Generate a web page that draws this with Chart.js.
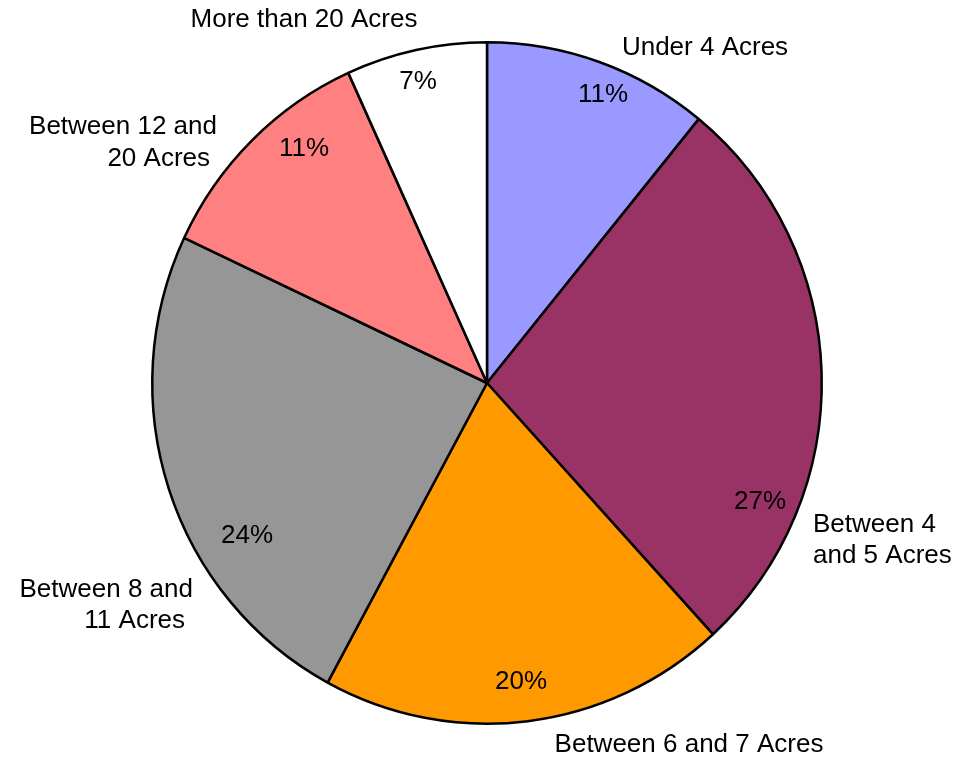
<!DOCTYPE html>
<html>
<head>
<meta charset="utf-8">
<script src="https://cdn.jsdelivr.net/npm/chart.js@4"></script>
<style>
  html, body { margin: 0; padding: 0; background: #ffffff; }
  #wrap { width: 977px; height: 759px; }
</style>
</head>
<body>
<div id="wrap"><canvas id="farmPie" width="977" height="759"></canvas></div>
<script>
// farm size shares, read clockwise from 12 o'clock
const categories = [
    "Under 4 Acres",
    "Between 4 and 5 Acres",
    "Between 6 and 7 Acres",
    "Between 8 and 11 Acres",
    "Between 12 and 20 Acres",
    "More than 20 Acres"
];
const shares = [10.9, 27.3, 19.7, 24.1, 11.2, 6.8];
const pctLabels = ["11%", "27%", "20%", "24%", "11%", "7%"];
const labelLines = [
    ["Under 4 Acres"],
    ["Between 4", "and 5 Acres"],
    ["Between 6 and 7 Acres"],
    ["Between 8 and", "11 Acres"],
    ["Between 12 and", "20 Acres"],
    ["More than 20 Acres"]
];
const sliceColors = ["#9999ff", "#993366", "#ff9900", "#969696", "#ff8080", "#ffffff"];

// where the texts sit, as offsets from the pie centre (px)
const pctOffsets = [[116, -288], [273, 119], [34, 299], [-240, 153], [-183, -234], [-69, -301]];
const nameLayout = [
    {dx: 218, dy: -335, align: "center", lines: [0]},
    {dx: 326, dy: 142, align: "left", lines: [0, 31]},
    {dx: 202, dy: 362, align: "center", lines: [0]},
    {dx: -294, dy: 207, align: "right", lines: [0, 31], shift: [0, -8]},
    {dx: -270, dy: -256, align: "right", lines: [0, 32], shift: [0, -7]},
    {dx: -183, dy: -363, align: "center", lines: [0]}
];

const FONT = '26px "Liberation Sans", Arial, sans-serif';
const Y_STRETCH = 341 / 335; // the original pie is a touch taller than wide

const ovalPie = {
    id: "ovalPie",
    beforeDatasetsDraw(chart) {
        const arcs = chart.getDatasetMeta(0).data;
        if (!arcs.length) return;
        const ctx = chart.ctx;
        ctx.save();
        ctx.translate(arcs[0].x, arcs[0].y);
        ctx.scale(1, Y_STRETCH);
        ctx.translate(-arcs[0].x, -arcs[0].y);
    },
    afterDatasetsDraw(chart) {
        if (chart.getDatasetMeta(0).data.length) chart.ctx.restore();
    }
};

const pieText = {
    id: "pieText",
    afterDraw(chart) {
        const ctx = chart.ctx;
        const arcs = chart.getDatasetMeta(0).data;
        if (!arcs.length) return;
        const cx = arcs[0].x, cy = arcs[0].y;
        ctx.save();
        ctx.font = FONT;
        ctx.fillStyle = "#000000";
        ctx.textBaseline = "middle";
        // percentages inside the slices
        ctx.textAlign = "center";
        pctLabels.forEach((t, i) => {
            ctx.fillText(t, cx + pctOffsets[i][0], cy + pctOffsets[i][1]);
        });
        // category names around the pie
        labelLines.forEach((lines, i) => {
            const l = nameLayout[i];
            ctx.textAlign = l.align;
            lines.forEach((txt, j) => {
                const sx = l.shift ? l.shift[j] : 0;
                ctx.fillText(txt, cx + l.dx + sx, cy + l.dy + l.lines[j]);
            });
        });
        ctx.restore();
    }
};

new Chart(document.getElementById("farmPie"), {
    type: "pie",
    data: {
        labels: categories,
        datasets: [{
            data: shares,
            backgroundColor: sliceColors,
            borderColor: "#000000",
            borderWidth: 2.5
        }]
    },
    options: {
        responsive: false,
        animation: false,
        layout: { padding: { top: 47, bottom: 40, left: 151, right: 154 } },
        plugins: {
            legend: { display: false },
            tooltip: { enabled: false }
        }
    },
    plugins: [ovalPie, pieText]
});
</script>
</body>
</html>
